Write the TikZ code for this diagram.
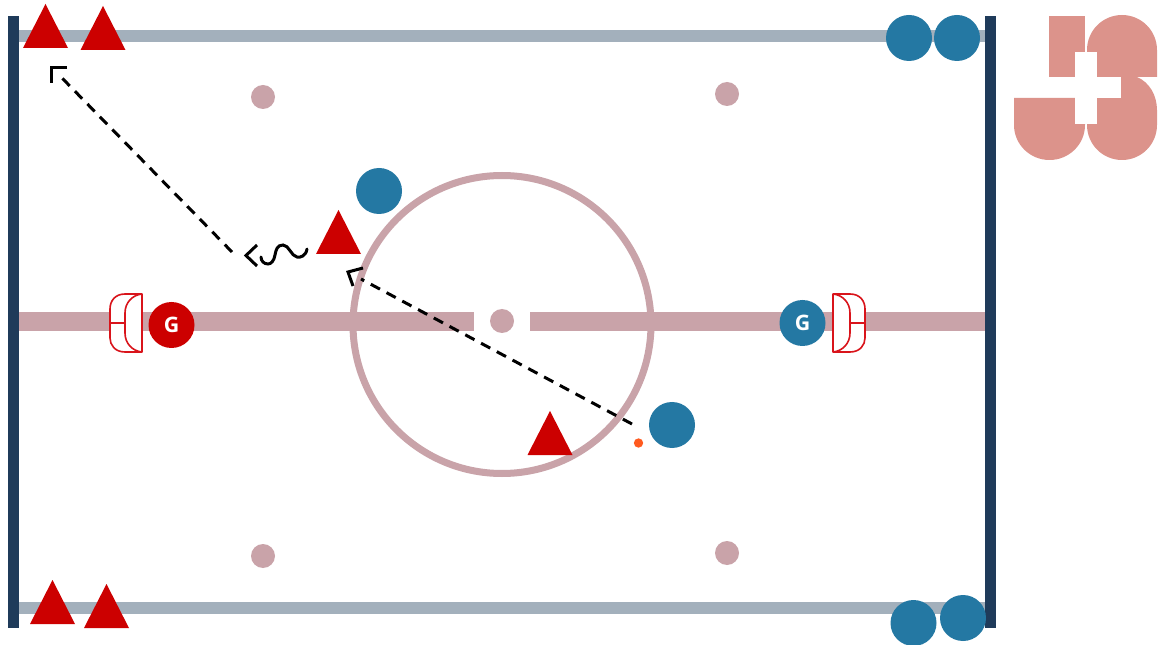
\documentclass[tikz,border=0pt]{standalone}
\usepackage{fontspec}
\setmainfont{Open Sans}
\definecolor{navy}{HTML}{1F3B5A}
\definecolor{steel}{HTML}{A3B0BC}
\definecolor{rose}{HTML}{C9A3A9}
\definecolor{teamblue}{HTML}{2478A3}
\definecolor{teamred}{HTML}{CC0000}
\definecolor{logopink}{HTML}{DC938B}
\definecolor{puckorange}{HTML}{FF5A1F}
\definecolor{goalred}{HTML}{D9141B}
\tikzset{
  board/.style={fill=navy,draw=none},
  rail/.style={fill=steel,draw=none},
  centreline/.style={fill=rose,draw=none},
  spot/.style={circle,fill=rose,draw=none,minimum size=18pt,inner sep=0pt},
  blueplayer/.style={circle,fill=teamblue,draw=none,minimum size=34.5pt,inner sep=0pt},
  redplayer/.style={circle,fill=teamred,draw=none,minimum size=34.5pt,inner sep=0pt},
  keeper/.style={text=white,font=\bfseries\fontsize{16}{16}\selectfont},
  puckdot/.style={circle,fill=puckorange,draw=none,minimum size=7pt,inner sep=0pt},
  pass/.style={draw=black,line width=2.25pt,dash pattern=on 7.8pt off 5.6pt},
  chevron/.style={draw=black,line width=2.25pt,line join=miter},
  skate/.style={draw=black,line width=2.25pt,line cap=round},
  logo/.style={fill=logopink,draw=none},
  tri/.pic={\fill[teamred] (-22.5,22) -- (0,-22) -- (22.5,22) -- cycle;},
  goalframe/.pic={
    \filldraw[goalred,fill=white,line width=1.2pt,line join=round]
      (32,-29) -- (15,-29) .. controls (5,-29) and (0,-22) .. (0,-14)
      -- (0,15) .. controls (0,22) and (5,29) .. (15,29) -- (32,29) -- cycle;
    \draw[goalred,line width=1.2pt]
      (32,-29) .. controls (22,-28) and (15,-20) .. (15,-10)
      -- (15,10) .. controls (15,20) and (22,28) .. (32,29);
    \draw[goalred,line width=1.2pt] (0,0) -- (15,0);
  }
}
\begin{document}
\begin{tikzpicture}[x=0.75pt,y=-0.75pt]
\useasboundingbox (0,0) rectangle (1168,645);
\fill[white] (0,0) rectangle (1168,645);

% rails
\fill[rail] (19,30.5) rectangle (985,42.5);
\fill[rail] (19,602) rectangle (985,614);
% centre line
\fill[centreline] (19,312) rectangle (474,331);
\fill[centreline] (530,312) rectangle (985,331);
% boards
\fill[board] (8,16) rectangle (19,628);
\fill[board] (985,16) rectangle (996,628);

% centre circle and spots
\draw[draw=rose,line width=5.25pt] (502,324.5) circle (149);
\node[spot] (c0) at (502,321) {};
\node[spot] (s1) at (263,97) {};
\node[spot] (s2) at (727,94) {};
\node[spot] (s3) at (263,556) {};
\node[spot] (s4) at (727,553) {};

% goals
\pic at (110,323) {goalframe};
\pic[xscale=-1] at (865,323) {goalframe};

% blue players
\node[blueplayer] (b1) at (909,38) {};
\node[blueplayer] (b2) at (957,38) {};
\node[blueplayer] (b3) at (913.5,623) {};
\node[blueplayer] (b4) at (963,618) {};
\node[blueplayer] (b5) at (379,191) {};
\node[blueplayer] (b6) at (672,425) {};
\node[blueplayer,keeper] (gb) at (802.5,323) {G};
\node[redplayer,keeper] (gr) at (171.5,325) {G};

% red players
\pic at (45.5,26) {tri};
\pic at (103,28) {tri};
\pic at (338.5,232) {tri};
\pic at (550,433) {tri};
\pic at (52.5,602) {tri};
\pic at (106.5,606) {tri};

% puck
\node[puckdot] (puck) at (638.5,443) {};

% connectors
\coordinate (passA) at (632,424);
\coordinate (passB) at (361,279);
\coordinate (passC) at (232,252);
\coordinate (passD) at (62,78);
\draw[pass] (passA) -- (passB);
\draw[pass] (passC) -- (passD);

\coordinate (tipBa) at (363,268);
\coordinate (tipB) at (348,272);
\coordinate (tipBb) at (353,286);
\draw[chevron] (tipBa) -- (tipB) -- (tipBb);

\coordinate (tipDa) at (67,68);
\coordinate (tipD) at (51,68);
\coordinate (tipDb) at (51,83);
\draw[chevron] (tipDa) -- (tipD) -- (tipDb);

\coordinate (skA) at (307,249);
\coordinate (skB) at (261,257);
\coordinate (chU) at (257,245);
\coordinate (chT) at (246,255.5);
\coordinate (chL) at (257,266);
\draw[skate] (skA) .. controls (306,256) and (300,258) .. (297,257)
  .. controls (291,256) and (289,245) .. (283,245)
  .. controls (277,245) and (276,250) .. (275,255)
  .. controls (274,261) and (271,264) .. (268,264)
  .. controls (264,264) and (261,261) .. (skB);
\draw[chevron] (chU) -- (chT) -- (chL);

% logo
\fill[logo] (1049,16) rectangle (1085,77);
\fill[logo] (1087,77) -- (1087,50) arc[start angle=180,end angle=360,radius=35] -- (1157,77) -- cycle;
\fill[logo] (1014,98) -- (1085,98) -- (1085,125) arc[start angle=0,end angle=180,x radius=35.5,y radius=35] -- cycle;
\fill[logo] (1121,77) -- (1137,77) .. controls (1149,82) and (1157,95) .. (1157,110) -- (1157,125)
  arc[start angle=0,end angle=180,radius=35] -- (1087,124) -- (1097,124) -- (1097,98) -- (1121,98) -- cycle;
\fill[white] (1075,52) rectangle (1097,124);
\fill[white] (1075,77) rectangle (1121,98);
\end{tikzpicture}
\end{document}
